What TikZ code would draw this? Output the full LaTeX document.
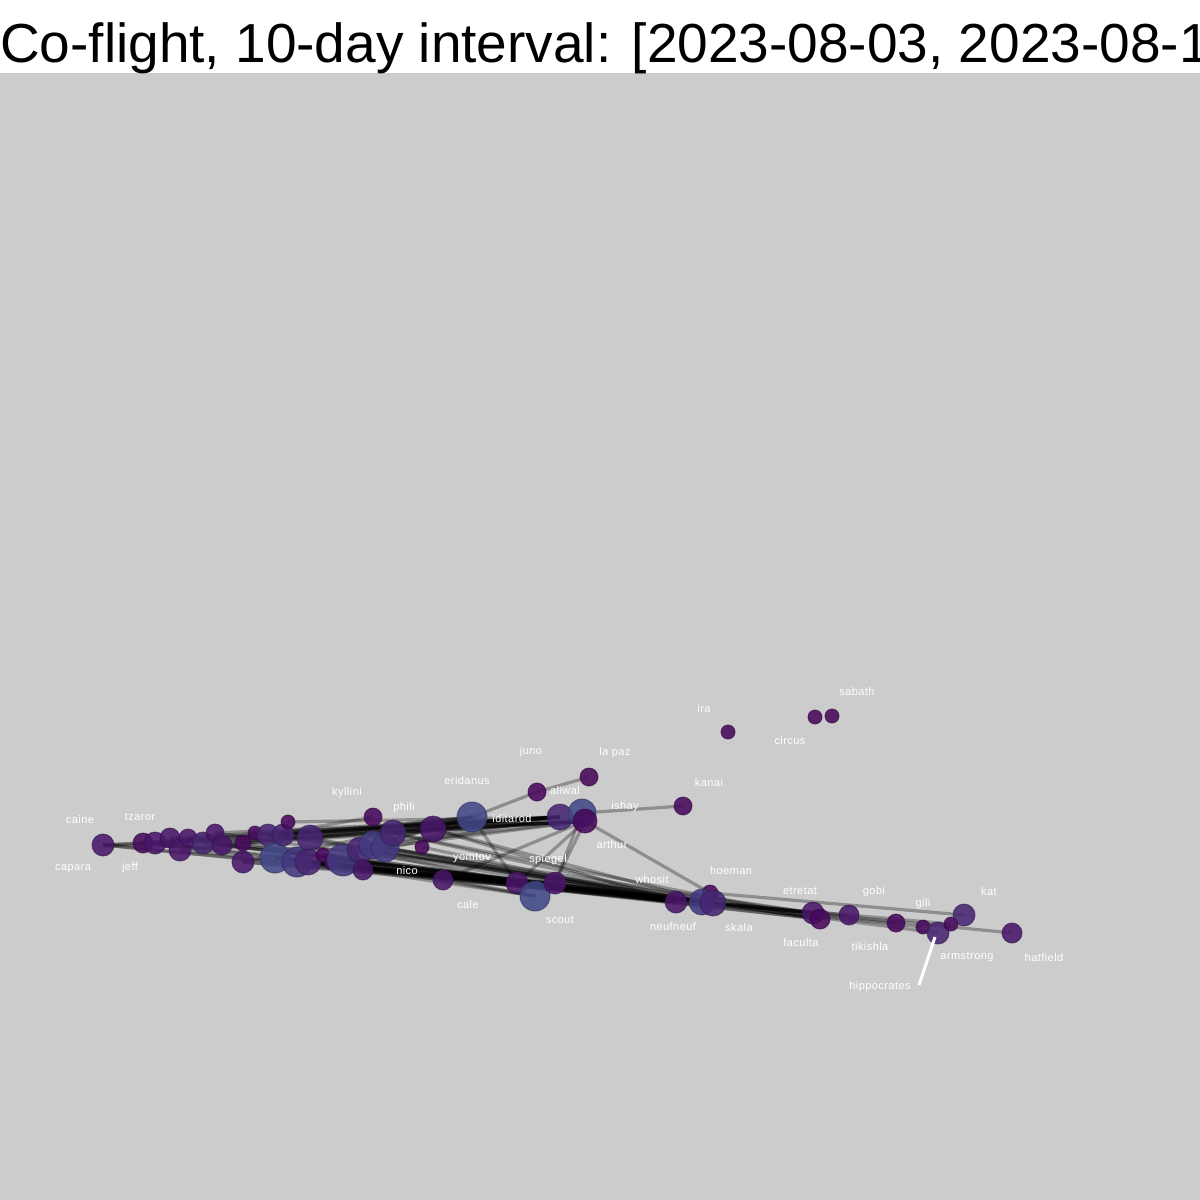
\documentclass[tikz,border=0pt]{standalone}
\usepackage{fontspec}
\setmainfont{Liberation Sans}
\newfontfamily\labfont[LetterSpace=4]{Liberation Sans}
\pgfdeclarelayer{bg}
\pgfdeclarelayer{edges}
\pgfsetlayers{bg,edges,main}
\definecolor{bggray}{HTML}{CCCCCC}
\definecolor{ca}{HTML}{47095C}
\definecolor{cb}{HTML}{48176A}
\definecolor{cc}{HTML}{472672}
\definecolor{cd}{HTML}{433A80}
\definecolor{ce}{HTML}{424888}
\tikzset{
  dot/.style={circle, inner sep=0pt, fill=#1, fill opacity=.88, draw=#1!70!black, draw opacity=.6, line width=1pt},
  edge/.style={draw=black, draw opacity=.3, line width=3.2pt},
  lab/.style={text=white, inner sep=0pt, font=\labfont\fontsize{11}{12}\selectfont},
}
\begin{document}
\begin{tikzpicture}[x=1pt,y=-1pt]
\useasboundingbox (0,0) rectangle (1200,1200);
\begin{pgfonlayer}{bg}
  \fill[white] (0,0) rectangle (1200,73);
  \fill[bggray] (0,73) rectangle (1200,1200);
\end{pgfonlayer}
\node[anchor=base west, inner sep=0pt, font=\fontsize{55}{60}\selectfont] (title) at (0,62) {Co-flight, 10-day interval: [2023-08-03, 2023-08-1};
% nodes
\foreach \i/\x/\y/\r/\c in {
  1/103/845/11/cb, 2/143/843/10/ca, 3/155/843/11/cb, 4/170/838/10/cb, 5/180/850/11/cb,
  6/188/838/9/cb, 7/203/843/11/cc, 8/215/833/9/cb, 9/222/845/10/cb, 10/243/843/8/ca,
  11/243/862/11/cb, 12/255/833/7/ca, 13/268/835/11/cc, 14/275/858/15/ce, 15/283/835/11/cc,
  16/288/822/7/ca, 17/297/862/15/cd, 18/310/838/13/cc, 19/308/862/13/cc, 20/323/855/7/ca,
  21/332/862/8/ca, 22/343/860/16/cd, 23/360/850/13/cc, 24/373/845/14/cd, 25/385/848/14/cd,
  26/393/833/13/cc, 27/363/870/10/cb, 28/373/817/9/ca, 29/433/829/13/cb, 30/422/847/7/ca,
  31/472/817/15/ce, 32/537/792/9/ca, 33/589/777/9/ca, 34/560/817/13/cc, 35/582/813/14/ce,
  36/585/821/12/ca, 37/683/806/9/ca, 38/443/880/10/cb, 39/517/883/11/cb, 40/535/896/15/ce,
  41/555/883/11/cb, 42/676/902/11/cb, 43/710/893/8/ca, 44/702/902/13/cd, 45/713/903/13/cc,
  46/813/913/11/cb, 47/820/919/10/ca, 48/849/915/10/cb, 49/896/923/9/ca, 50/923/927/7/ca,
  51/938/933/11/cc, 52/951/924/7/ca, 53/964/915/11/cc, 54/1012/933/10/cb, 55/728/732/7/ca,
  56/815/717/7/ca, 57/832/716/7/ca}
  \node[dot=\c, minimum size=2*\r] (n\i) at (\x,\y) {};
% edges
\begin{pgfonlayer}{edges}
  \foreach \a/\b in {
    1/34, 1/45, 1/42, 1/23, 1/18,
    2/34, 4/34, 6/34, 8/34, 10/34, 12/34, 13/34, 15/34, 16/34, 18/34, 24/34, 26/34, 29/34, 25/34,
    3/36, 7/36, 9/36, 13/36, 18/36, 23/36, 26/36, 24/36, 29/36,
    5/31, 11/31, 15/31, 24/31, 23/31, 18/31, 28/13,
    3/45, 5/45, 7/45, 9/45, 11/45, 14/45, 17/45, 19/45, 21/45, 22/45, 23/45, 25/45, 13/45, 29/45,
    4/42, 6/42, 10/42, 14/42, 19/42, 22/42, 27/42, 29/42, 24/42, 18/42,
    2/44, 8/44, 17/44, 20/44, 22/44, 26/44, 25/44, 15/44,
    23/39, 19/39, 11/39, 22/40, 14/40, 21/40, 17/41, 27/41,
    14/46, 17/47, 22/46, 19/47, 23/46, 25/46, 26/47,
    45/46, 45/47, 44/47, 42/48, 45/49, 44/51, 42/50, 45/52, 44/54, 43/53,
    31/32, 32/33, 35/37, 36/43, 31/39, 36/39, 36/41, 35/41, 36/38, 30/42}
    \draw[edge] (n\a.center) -- (n\b.center);
\end{pgfonlayer}
% hippocrates pointer
\coordinate (hipA) at (935,937);
\coordinate (hipB) at (919,985);
\draw[white, line width=3pt] (hipA) -- (hipB);
% labels
\foreach \n/\x/\y/\t in {
  caine/80/820/caine, capara/73/869/capara, tzaror/140/817/tzaror, jeff/130/868/jeff,
  kyllini/347/793/kyllini, phili/404/808/phili, eridanus/467/781/eridanus, juno/531/752/juno,
  lapaz/615/753/la paz, aliwal/565/791/aliwal, ishay/625/807/ishay, kanai/709/783/kanai,
  iditarod/512/819/iditarod, arthur/612/845/arthur, yomtov/472/858/yomtov, spiegel/548/860/spiegel,
  nico/407/871/nico, cale/468/905/cale, scout/560/920/scout, whosit/652/880/whosit,
  hoeman/731/871/hoeman, etretat/800/891/etretat, gobi/874/892/gobi, gili/923/904/gili,
  kat/989/892/kat, neufneuf/673/927/neufneuf, skala/739/928/skala, faculta/801/943/faculta,
  tikishla/870/947/tikishla, armstrong/967/957/armstrong, hatfield/1044/958/hatfield,
  hippocrates/880/987/hippocrates, ira/704/709/ira, circus/790/741/circus, sabath/857/692/sabath}
  \node[lab] (l-\n) at (\x,\y) {\t};
\end{tikzpicture}
\end{document}
